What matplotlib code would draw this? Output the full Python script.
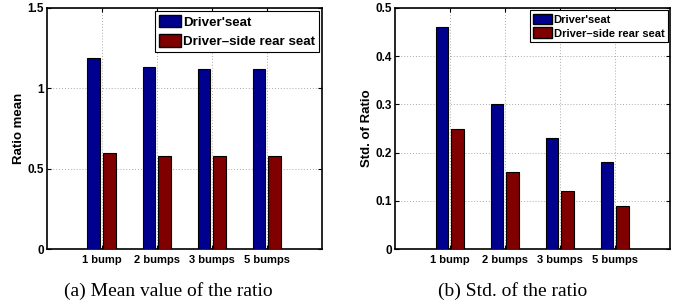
import numpy as np
import matplotlib.pyplot as plt
from matplotlib.patches import Patch

categories = ["1 bump", "2 bumps", "3 bumps", "5 bumps"]
series_names = ["Driver'seat", "Driver\u2013side rear seat"]

mean_driver = [1.19, 1.13, 1.12, 1.12]
mean_rear = [0.60, 0.58, 0.58, 0.58]
std_driver = [0.46, 0.30, 0.23, 0.18]
std_rear = [0.25, 0.16, 0.12, 0.09]

blue = "#00008f"
red = "#800000"

plt.rcParams["font.family"] = ["Liberation Sans", "DejaVu Sans"]
plt.rcParams["font.weight"] = "bold"

W, H = 680, 305
fig = plt.figure(figsize=(W / 100, H / 100), dpi=100)


def px_axes(x0, x1, y0, y1):
    return fig.add_axes([x0 / W, 1 - y1 / H, (x1 - x0) / W, (y1 - y0) / H])


def draw(ax, d1, d2, ymax, yticks, ytl, ylabel, legsize, lspace, caption,
         cx, labx):
    x = np.arange(1, len(categories) + 1)
    ax.bar(x - 0.145, d1, 0.23, color=blue, edgecolor="black", linewidth=0.8,
           zorder=3)
    ax.bar(x + 0.135, d2, 0.23, color=red, edgecolor="black", linewidth=0.8,
           zorder=3)
    ax.set_xlim(0, 5)
    ax.set_ylim(0, ymax)
    ax.set_xticks(x)
    ax.set_xticklabels(categories, fontsize=8, fontweight="bold")
    ax.set_yticks(yticks)
    ax.set_yticklabels(ytl, fontsize=8.5, fontweight="bold")
    ax.tick_params(direction="in", top=True, right=True, length=3, width=0.8)
    ax.tick_params(axis="x", pad=4)
    ax.tick_params(axis="y", pad=2)
    ax.grid(True, linestyle=(0, (1, 2)), color="#aaaaaa", linewidth=0.7,
            zorder=0)
    for s in ax.spines.values():
        s.set_linewidth(1.2)
    ax.set_ylabel(ylabel, fontsize=9.5, fontweight="bold", va="center")
    bb = ax.get_position()
    ax.yaxis.set_label_coords((labx / W - bb.x0) / bb.width, 0.5)
    handles = [Patch(facecolor=blue, edgecolor="black"),
               Patch(facecolor=red, edgecolor="black")]
    leg = ax.legend(handles, series_names, loc="upper right",
                    prop={"size": legsize, "weight": "bold"},
                    fancybox=False, edgecolor="black", framealpha=1,
                    borderpad=0.3, handlelength=1.7, handleheight=1.1,
                    handletextpad=0.15, labelspacing=lspace,
                    borderaxespad=0.2)
    leg.get_frame().set_linewidth(0.8)
    fig.text(cx / W, 1 - 291 / H, caption, ha="center", va="center",
             fontsize=14, family=["Liberation Serif", "DejaVu Serif"],
             fontweight="normal")


ax1 = px_axes(46.7, 322, 8, 249)
draw(ax1, mean_driver, mean_rear, 1.5, [0, 0.5, 1, 1.5],
     ["0", "0.5", "1", "1.5"], "Ratio mean", 9.6, 0.4,
     "(a) Mean value of the ratio", 168, 19)

ax2 = px_axes(395, 670, 8, 249)
draw(ax2, std_driver, std_rear, 0.5, [0, 0.1, 0.2, 0.3, 0.4, 0.5],
     ["0", "0.1", "0.2", "0.3", "0.4", "0.5"], "Std. of Ratio", 8, 0.25,
     "(b) Std. of the ratio", 513, 367)

fig.savefig("out.png", dpi=100)
